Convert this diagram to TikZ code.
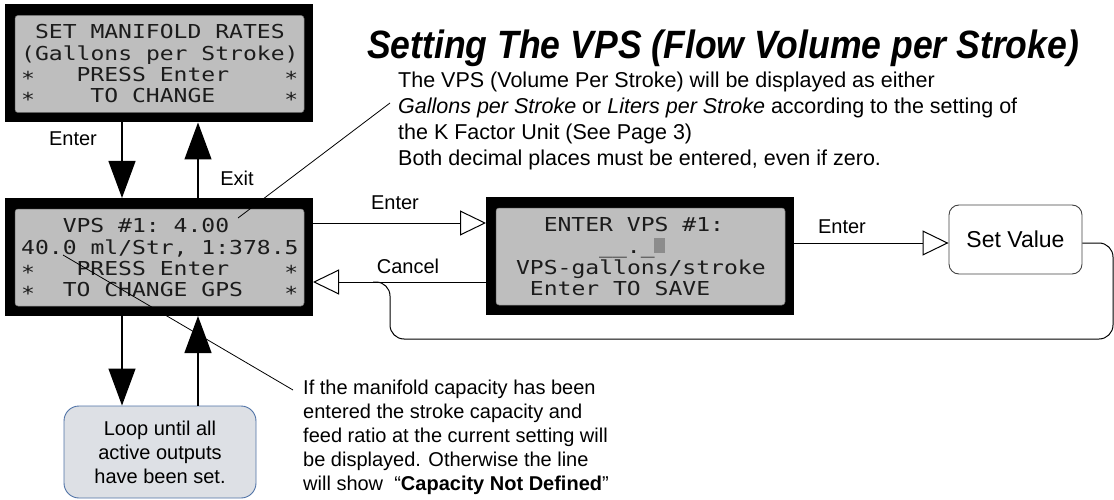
\documentclass[tikz,border=0pt]{standalone}
\usepackage{fontspec}
\setmainfont{Liberation Sans}
\newfontfamily\lcdfont{DejaVu Sans Mono}[FakeStretch=1.2]
\newfontfamily\headfont{Liberation Sans}[FakeStretch=0.9]
\usetikzlibrary{arrows.meta,calc}

\definecolor{lcdgray}{HTML}{BEBEBE}
\definecolor{lcdink}{HTML}{1C1C1C}
\definecolor{cursorgray}{HTML}{8C8C8C}
\definecolor{loopfill}{HTML}{DDE0E5}
\definecolor{loopedge}{HTML}{4F72A6}

% one character cell of the LCD, used for blanks inside a run
\newcommand\lcdgap{\hspace*{13.85pt}}
% the LCD star sits at mid height of a cell
\newcommand\lcdstar{\raisebox{-4.5pt}{*}}
% one run of LCD characters: name, panel, baseline offset, column, text
\newcommand\lcdrun[5]{%
  \node[lcdtxt] (#1) at ($(#2.north west)+(16+13.85*#4,#3)$) {#5};}

\begin{document}
\begin{tikzpicture}[x=1pt,y=-1pt,
  lcdframe/.style={fill=black, minimum width=308pt, minimum height=118pt,
    inner sep=0pt, outer sep=0pt},
  lcdtxt/.style={font=\lcdfont\fontsize{19.2}{22}\selectfont, text=lcdink,
    inner sep=0pt, anchor=base west},
  lbl/.style={font=\fontsize{20}{24}\selectfont, inner sep=0pt},
  leader/.style={line width=0.8pt},
  solidhead/.style={line width=1.3pt, -{Triangle[length=37pt,width=27pt]}},
  openhead/.style={line width=1pt, -{Triangle[open,length=26pt,width=25pt]}},
]
\useasboundingbox (0,0) rectangle (1114,500);

% guide coordinates
\coordinate (cL) at (122,0);
\coordinate (cR) at (198,0);
\coordinate (rowA) at (0,223);
\coordinate (rowB) at (0,282);
\coordinate (rowC) at (0,243);

% LCD panels
\node[lcdframe] (p1) at (159,63.5) {};
\node[lcdframe] (p2) at (159,257) {};
\node[lcdframe] (p3) at (640,256) {};
\foreach \p in {p1,p2,p3}
  \filldraw[fill=lcdgray, draw=black!55, line width=0.5pt, rounded corners=3pt]
    ([shift={(10pt,-11pt)}]\p.north west) rectangle ([shift={(-9pt,10pt)}]\p.south east);

% panel 1
\lcdrun{p1a}{p1}{34}{1}{SET\lcdgap MANIFOLD\lcdgap RATES}
\lcdrun{p1b}{p1}{56}{0}{(Gallons\lcdgap per\lcdgap Stroke)}
\lcdrun{p1c}{p1}{77}{0}{\lcdstar}
\lcdrun{p1d}{p1}{77}{4}{PRESS\lcdgap Enter}
\lcdrun{p1e}{p1}{77}{19}{\lcdstar}
\lcdrun{p1f}{p1}{98}{0}{\lcdstar}
\lcdrun{p1g}{p1}{98}{5}{TO\lcdgap CHANGE}
\lcdrun{p1h}{p1}{98}{19}{\lcdstar}

% panel 2
\lcdrun{p2a}{p2}{34}{3}{VPS\lcdgap\#1:\lcdgap 4.00}
\lcdrun{p2b}{p2}{56}{0}{40.0\lcdgap ml/Str,\lcdgap 1:378.5}
\lcdrun{p2c}{p2}{77}{0}{\lcdstar}
\lcdrun{p2d}{p2}{77}{4}{PRESS\lcdgap Enter}
\lcdrun{p2e}{p2}{77}{19}{\lcdstar}
\lcdrun{p2f}{p2}{98}{0}{\lcdstar}
\lcdrun{p2g}{p2}{98}{3}{TO\lcdgap CHANGE\lcdgap GPS}
\lcdrun{p2h}{p2}{98}{19}{\lcdstar}

% panel 3
\lcdrun{p3a}{p3}{34}{3}{ENTER\lcdgap VPS\lcdgap\#1:}
\lcdrun{p3b}{p3}{56}{7}{\_\_.\_}
\fill[cursorgray] ($(p3.north west)+(16+13.85*11,56)$) rectangle ++(11,-15);
\lcdrun{p3c}{p3}{77}{1}{VPS-gallons/stroke}
\lcdrun{p3d}{p3}{98}{2}{Enter\lcdgap TO\lcdgap SAVE}

% other boxes
\node[draw=black!75, line width=0.9pt, rounded corners=10pt, minimum width=133pt,
  minimum height=69pt, inner sep=0pt, font=\fontsize{23}{27}\selectfont]
  (setv) at (1015.5,239.5) {Set Value};
\node[draw=loopedge, fill=loopfill, line width=0.9pt, rounded corners=15pt,
  minimum width=192pt, minimum height=92pt, align=center, inner sep=0pt,
  font=\fontsize{20}{24}\selectfont] (loop) at (160,452)
  {Loop until all\\active outputs\\have been set.};

% title and notes
\node[anchor=base west, inner sep=0pt,
  font=\headfont\fontsize{39.5}{44}\selectfont\bfseries\itshape] (title) at (367,59)
  {Setting The VPS (Flow Volume per Stroke)};
\node[anchor=north west, inner sep=0pt, align=left,
  font=\fontsize{21.5}{26}\selectfont] (note1) at (398,72)
  {The VPS (Volume Per Stroke) will be displayed as either\\
   \textit{Gallons per Stroke} or \textit{Liters per Stroke} according to the setting of\\
   the K Factor Unit (See Page 3)\\
   Both decimal places must be entered, even if zero.};
\node[anchor=north west, inner sep=0pt, align=left,
  font=\fontsize{20}{24}\selectfont] (note2) at (303,380)
  {If the manifold capacity has been\\
   entered the stroke capacity and\\
   feed ratio at the current setting will\\
   be displayed. Otherwise the line\\
   will show~ “\textbf{Capacity Not Defined}”};

% vertical transitions
\draw[solidhead] (p1.south -| cL) -- (p2.north -| cL);
\draw[solidhead] (p2.north -| cR) -- (p1.south -| cR);
\draw[solidhead] (p2.south -| cL) -- (loop.north -| cL);
\draw[solidhead] (loop.north -| cR) -- (p2.south -| cR);
\node[lbl] (lblEnterA) at (73,139) {Enter};
\node[lbl] (lblExit) at (237,178) {Exit};

% horizontal transitions
\draw[openhead] (p2.east |- rowA) -- (p3.west |- rowA);
\node[lbl] (lblEnterB) at (395,203) {Enter};
\draw[openhead] (p3.west |- rowB) -- (p2.east |- rowB);
\node[lbl] (lblCancel) at (408,266) {Cancel};
\draw[openhead] (p3.east |- rowC) -- (setv.west |- rowC);
\node[lbl] (lblEnterC) at (842,227) {Enter};

% return path from Set Value back onto the Cancel line
\coordinate (join) at (373,282);
\draw[line width=1pt, rounded corners=14pt]
  (setv.east |- rowC) -- (1113,243) -- (1113,339) -- (390,339) -- (390,282) -- (join);

% leader lines
\coordinate (lead1a) at (390,103);
\coordinate (lead1b) at (238,218);
\draw[leader] (lead1a) -- (lead1b);
\coordinate (lead2a) at (63,255);
\coordinate (lead2b) at (293,390);
\draw[leader] (lead2a) -- (lead2b);
\end{tikzpicture}
\end{document}
